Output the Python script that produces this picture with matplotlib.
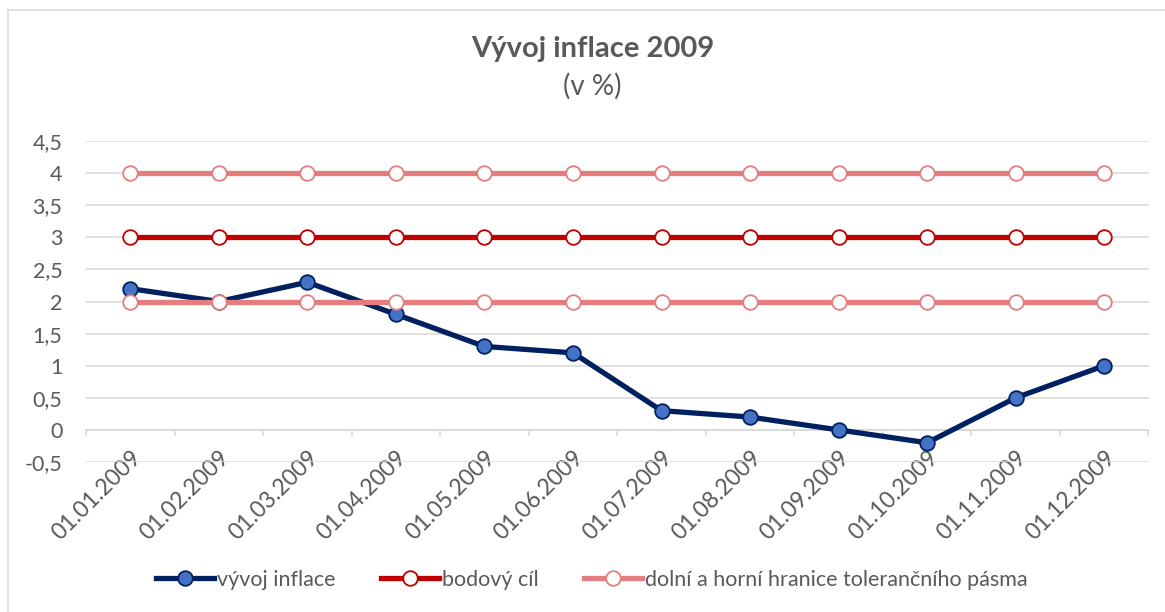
import numpy as np
import matplotlib.pyplot as plt
from matplotlib.lines import Line2D
from matplotlib.ticker import FixedLocator, FuncFormatter, NullFormatter

dates = ["01.01.2009", "01.02.2009", "01.03.2009", "01.04.2009",
         "01.05.2009", "01.06.2009", "01.07.2009", "01.08.2009",
         "01.09.2009", "01.10.2009", "01.11.2009", "01.12.2009"]

inflace = [2.2, 2.0, 2.3, 1.8, 1.3, 1.2, 0.3, 0.2, 0.0, -0.2, 0.5, 1.0]
bodovy_cil = [3, 3, 3, 3, 3, 3, 3, 3, 3, 3, 3, 3]
horni_hranice = [4, 4, 4, 4, 4, 4, 4, 4, 4, 4, 4, 4]
dolni_hranice = [2, 2, 2, 2, 2, 2, 2, 2, 2, 2, 2, 2]

y_ticks = [-0.5, 0, 0.5, 1, 1.5, 2, 2.5, 3, 3.5, 4, 4.5]

plt.rcParams["font.family"] = ["Lato", "DejaVu Sans"]
text_color = "#595959"
grid_color = "#d9d9d9"
fs = 15.5

W, H = 1165, 612
fig = plt.figure(figsize=(W / 100, H / 100), dpi=100)
fig.patch.set_facecolor("white")

# plot area in pixel terms
left, right, top, bottom = 86, 1148.5, 141, 462
ax = fig.add_axes([left / W, 1 - bottom / H, (right - left) / W, (bottom - top) / H])

x = np.arange(len(dates))

ax.plot(x, inflace, color="#002060", lw=3.8, marker="o", ms=10.5,
        mfc="#4472C4", mec="#002060", mew=1.3, zorder=3, label="vývoj inflace")
ax.plot(x, bodovy_cil, color="#C00000", lw=3.8, marker="o", ms=10.5,
        mfc="white", mec="#C00000", mew=1.3, zorder=4, label="bodový cíl")
ax.plot(x, horni_hranice, color="#E47D7D", lw=3.8, marker="o", ms=10.5,
        mfc="white", mec="#E47D7D", mew=1.3, zorder=5,
        label="dolní a horní hranice tolerančního pásma")
ax.plot(x, dolni_hranice, color="#E47D7D", lw=3.8, marker="o", ms=10.5,
        mfc="white", mec="#E47D7D", mew=1.3, zorder=5)

ax.set_xlim(-0.5, len(dates) - 0.5)
ax.set_ylim(-0.5, 4.5)

ax.set_yticks(y_ticks)
ax.yaxis.set_major_formatter(FuncFormatter(lambda v, p: f"{v:g}".replace(".", ",")))
ax.tick_params(axis="y", length=0, pad=17, labelsize=fs, labelcolor=text_color)
ax.grid(axis="y", color=grid_color, lw=1.1, zorder=0)
ax.set_axisbelow(True)

for side in ["top", "right", "left"]:
    ax.spines[side].set_visible(False)
ax.spines["bottom"].set_position(("data", 0))
ax.spines["bottom"].set_color(grid_color)
ax.spines["bottom"].set_linewidth(1.1)

# tick marks between categories, labels at category centres
ax.xaxis.set_major_locator(FixedLocator(np.arange(-0.5, len(dates), 1)))
ax.xaxis.set_major_formatter(NullFormatter())
ax.xaxis.set_minor_locator(FixedLocator(x))
ax.set_xticklabels(dates, minor=True)
ax.tick_params(axis="x", which="major", length=4.5, width=1.1, color=grid_color, direction="out")
ax.tick_params(axis="x", which="minor", length=0, pad=12, labelsize=16.5, labelcolor=text_color)
for lab in ax.get_xticklabels(minor=True):
    lab.set_rotation(45)
    lab.set_ha("right")
    lab.set_va("top")
    lab.set_rotation_mode("anchor")

fig.text(593 / W, 1 - 57 / H, "Vývoj inflace 2009", ha="center", va="baseline",
         fontsize=21, fontweight="bold", color=text_color)
fig.text(592 / W, 1 - 95 / H, "(v %)", ha="center", va="baseline",
         fontsize=20, color=text_color)

fig.legend(loc="center", bbox_to_anchor=(592 / W, 1 - 580 / H), ncol=3, frameon=False,
           fontsize=fs, handlelength=2.7, handletextpad=0.15, columnspacing=2.1,
           labelcolor=text_color)

# chart border (only top and left visible in the crop)
fig.add_artist(Line2D([7.5 / W, 7.5 / W], [0, 1 - 9.5 / H], color=grid_color, lw=1.1))
fig.add_artist(Line2D([7.5 / W, 1], [1 - 9.5 / H, 1 - 9.5 / H], color=grid_color, lw=1.1))

fig.savefig("out.png", dpi=100)
